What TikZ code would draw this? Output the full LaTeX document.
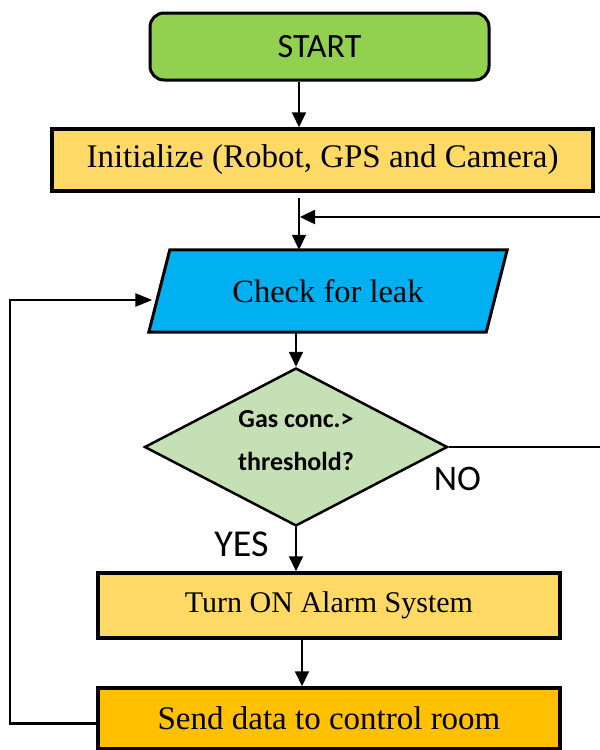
\documentclass[tikz,border=0pt]{standalone}
\usepackage{fontspec}
\setmainfont{Liberation Serif}
\newfontfamily\calib{Carlito}
\usetikzlibrary{arrows.meta,shapes.geometric,backgrounds,calc}
\definecolor{cgreen}{HTML}{92D050}
\definecolor{cyel}{HTML}{FFD966}
\definecolor{cblue}{HTML}{00B0F0}
\definecolor{cdia}{HTML}{C5E0B4}
\definecolor{corange}{HTML}{FFC000}
\begin{document}
\begin{tikzpicture}[x=1pt,y=-1pt,
  box/.style={draw=black, line width=3.5pt, rectangle, inner sep=0pt},
  arr/.style={-{Triangle[length=15pt,width=14pt]}, line width=1.8pt},
  arrB/.style={-{Triangle[length=17pt,width=13pt]}, line width=2.8pt},
  ln/.style={line width=2.6pt},
  lbl/.style={inner sep=0pt, text=black}]
\useasboundingbox (0,0) rectangle (600,750);

% nodes
\node[draw=black, line width=3pt, rounded corners=14pt, fill=cgreen,
      minimum width=339pt, minimum height=67pt, inner sep=0pt,
      font=\calib\fontsize{34}{40}\selectfont] (start) at (319.5,46.5) {START};
\node[box, fill=cyel, minimum width=541pt, minimum height=62pt,
      font=\fontsize{33}{40}\selectfont] (init) at (322.5,160) {Initialize (Robot, GPS and Camera)};
\node[inner sep=0pt, minimum width=337pt, minimum height=82pt,
      font=\fontsize{32.5}{38}\selectfont] (check) at (328,291) {Check for leak};
\begin{scope}[on background layer]
  \draw[fill=cblue, line width=3pt, line join=miter]
    ([xshift=-10.5pt]check.south west) -- ([xshift=-10.5pt]check.south east)
    -- ([xshift=10.5pt]check.north east) -- ([xshift=10.5pt]check.north west) -- cycle;
\end{scope}
\node[diamond, draw=black, fill=cdia, line width=2.5pt, inner sep=0pt, aspect=1.92,
      minimum width=303pt, minimum height=158pt, align=center,
      font=\calib\bfseries\fontsize{26}{43}\selectfont] (dia) at (296,447)
      {Gas conc.>\\threshold?\rule[-14pt]{0pt}{0pt}};
\node[box, fill=cyel, minimum width=462pt, minimum height=65pt,
      font=\fontsize{30}{36}\selectfont] (turn) at (329,605.5) {Turn ON Alarm System};
\node[box, fill=corange, minimum width=462pt, minimum height=61pt,
      font=\fontsize{33}{38}\selectfont] (send) at (329,718.5) {Send data to control room};

\node[lbl, font=\calib\fontsize{36}{40}\selectfont] (no) at (457.5,479) {NO};
\node[lbl, font=\calib\fontsize{38}{44}\selectfont] (yes) at (241.5,544.5) {YES};

% coordinates
\coordinate (j0) at (299,198);
\coordinate (j1) at (302,0);
\coordinate (rin) at (600,217);
\coordinate (rout) at (600,447);
\coordinate (lx) at (10,0);

% connectors
\draw[arr] (start.south -| j0) -- (init.north -| j0);
\draw[arr, line width=2.5pt, shorten >=1pt] (rin) -- (rin -| j0);
\draw[arr] (j0) -- (j0 |- check.north);
\draw[arr] (check.south -| dia.north) -- (dia.north);
\draw[ln] (dia.east) -- (rout);
\draw[arr] (dia.south) -- (dia.south |- turn.north);
\draw[arr] (turn.south -| j1) -- (send.north -| j1);
\draw[arrB, line join=miter] ([yshift=-5pt]send.west) -- ([yshift=-5pt]send.west -| lx)
   |- ([xshift=-7pt,yshift=-9pt]check.west);
\end{tikzpicture}
\end{document}
